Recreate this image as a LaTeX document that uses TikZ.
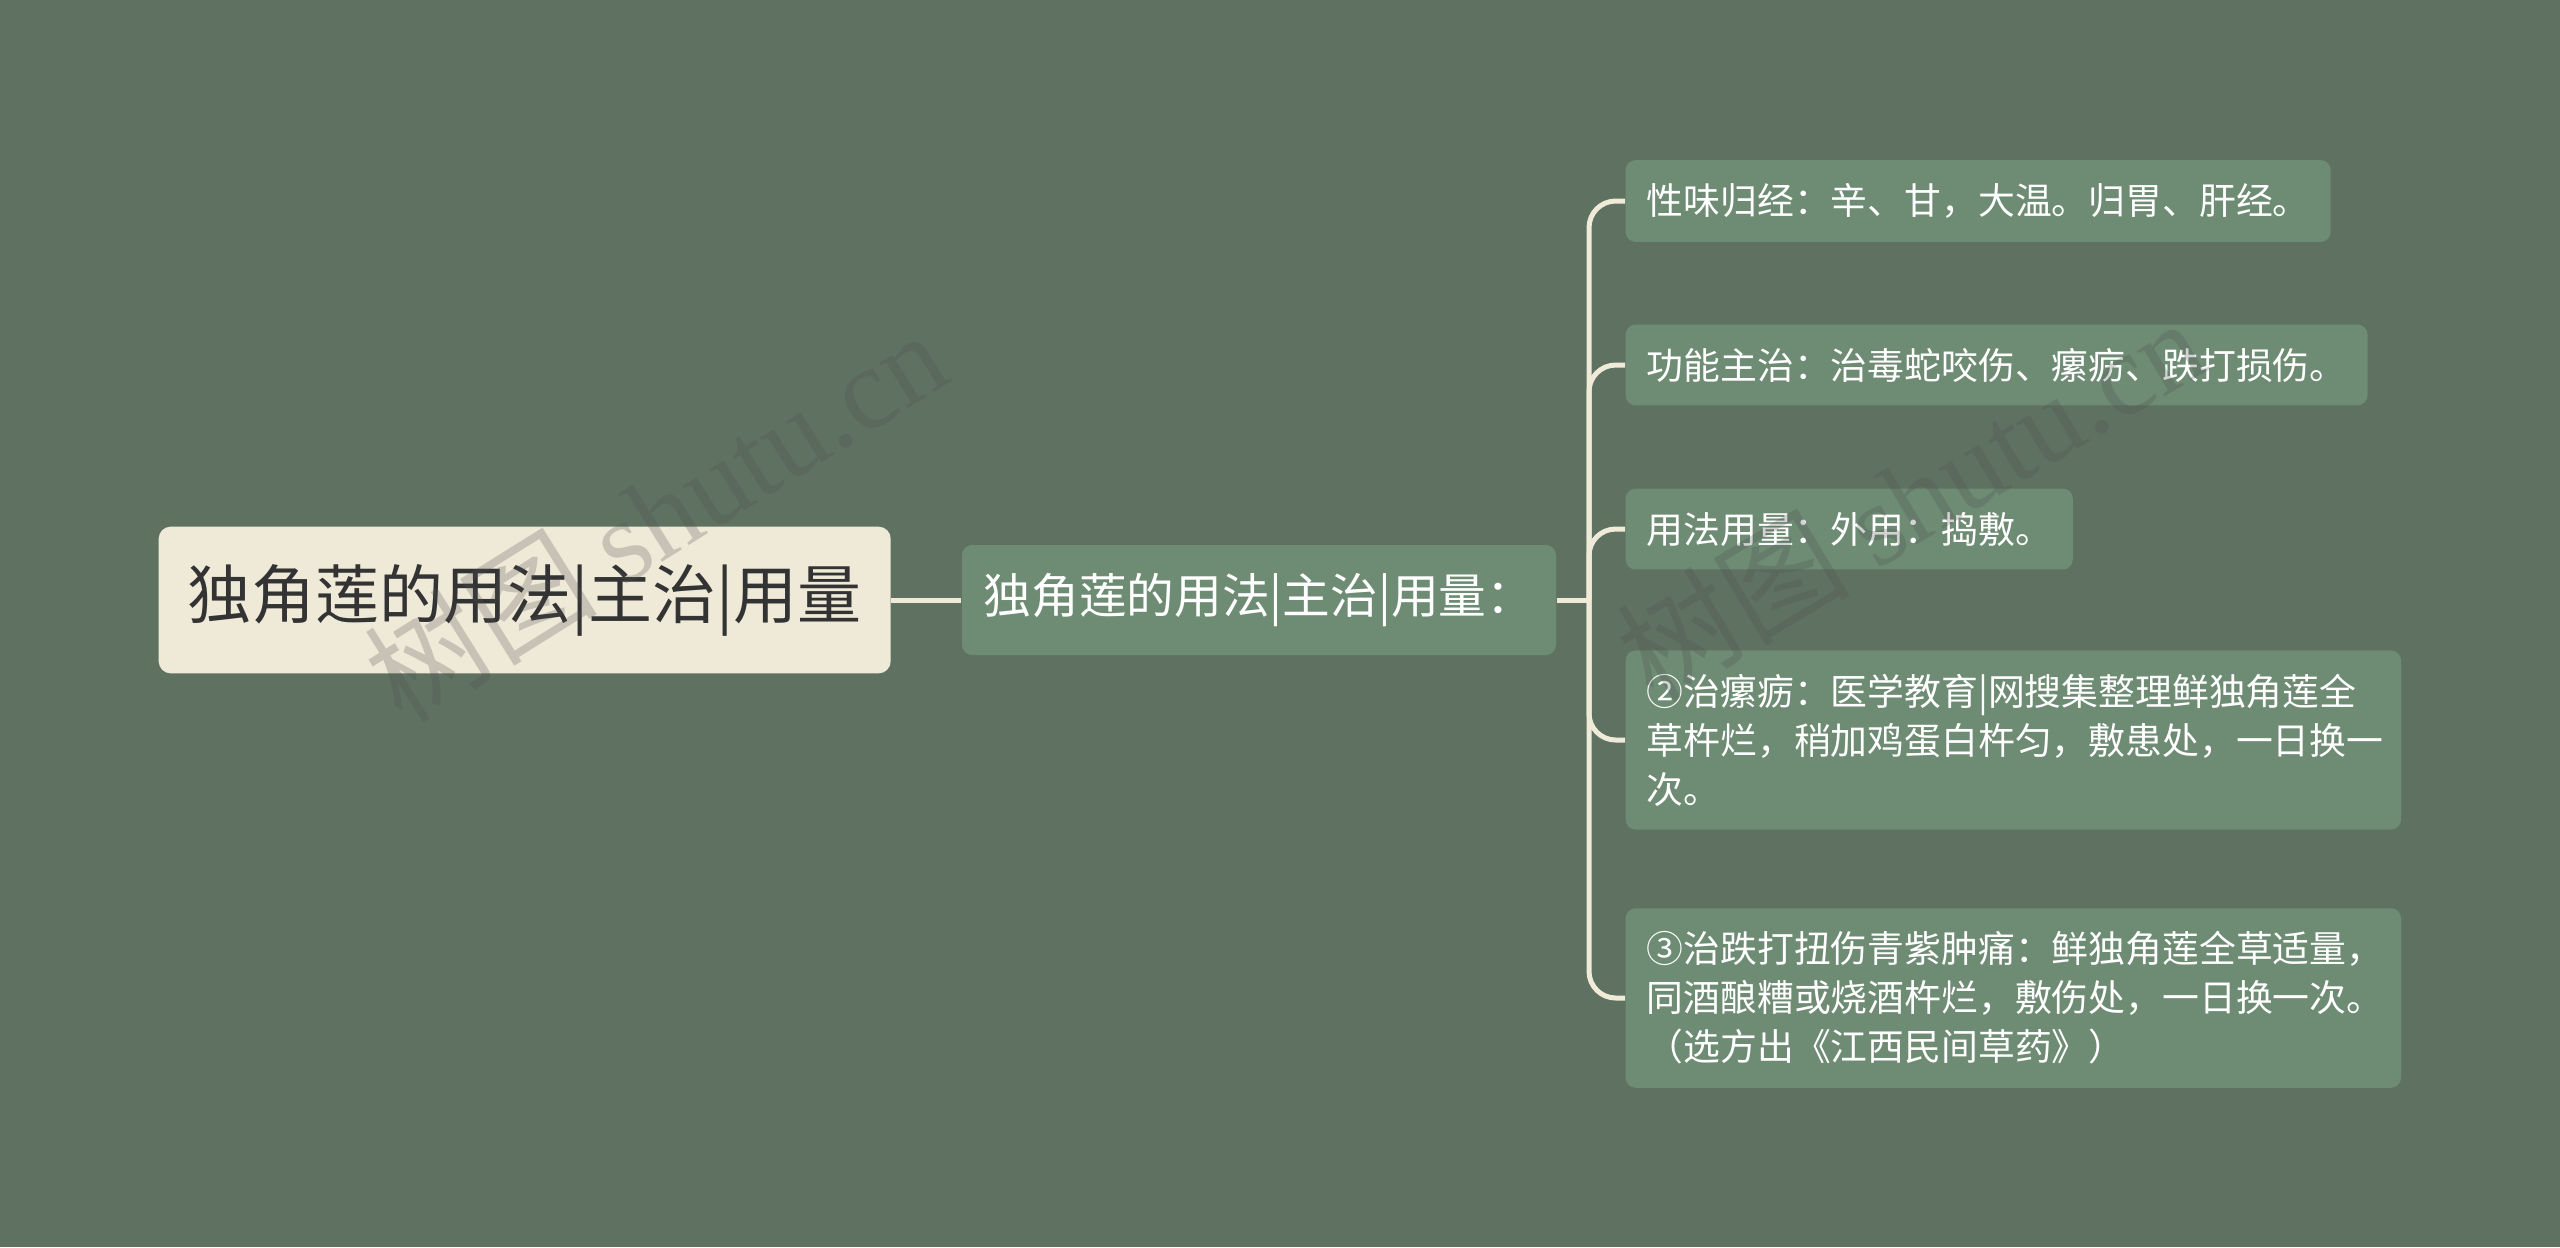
\documentclass[tikz,border=0pt]{standalone}
\usepackage{fontspec}
\setmainfont{Noto Sans CJK SC}
\newfontfamily\wmserif{Liberation Serif}
\usetikzlibrary{positioning}

\definecolor{bgcol}{HTML}{5F7262}
\definecolor{leafcol}{HTML}{6E8B74}
\definecolor{rootcol}{HTML}{EFE9D8}
\definecolor{linecol}{HTML}{F0EAD8}
\definecolor{roottext}{HTML}{333333}
\definecolor{wmcol}{HTML}{505050}

\begin{document}
\begin{tikzpicture}[x=0.3pt,y=-0.3pt,
	root node/.style={rectangle,rounded corners=3.6pt,fill=rootcol,text=roottext,
		font=\fontsize{19.2pt}{23pt}\selectfont,minimum width=219.6pt,minimum height=44pt},
	mid node/.style={rectangle,rounded corners=3pt,fill=leafcol,text=white,
		font=\fontsize{14.3pt}{17pt}\selectfont,minimum width=178.2pt,minimum height=33pt},
	leaf node/.style={rectangle,rounded corners=3pt,fill=leafcol,text=white,anchor=west,
		font=\fontsize{11.05pt}{14.7pt}\selectfont,align=left,inner xsep=6.3pt,inner ysep=7pt},
	long leaf/.style={leaf node,text width=220pt},
	link/.style={draw=linecol,line width=1.5pt},
	wm/.style={text=wmcol,opacity=0.25,font=\fontsize{35pt}{40pt}\selectfont}]

	\useasboundingbox[fill=bgcol] (0,0) rectangle (2560,1247);

	\node[root node,anchor=west] (root) at (158,600) {独角莲的用法|主治|用量};
	\node[mid node] (mid) [right=21pt of root] {独角莲的用法|主治|用量：};

	\node[leaf node] (taste) at (1625,201) {性味归经：辛、甘，大温。归胃、肝经。};
	\node[leaf node] (func) at (1625,365) {功能主治：治毒蛇咬伤、瘰疬、跌打损伤。};
	\node[leaf node] (usage) at (1625,529) {用法用量：外用：捣敷。};
	\node[long leaf] (scrof) at (1625,740) {②治瘰疬：医学教育|网搜集整理鲜独角莲全\\草杵烂，稍加鸡蛋白杵匀，敷患处，一日换一\\次。};
	\node[long leaf] (bruise) at (1625,998) {③治跌打扭伤青紫肿痛：鲜独角莲全草适量，\\同酒酿糟或烧酒杵烂，敷伤处，一日换一次。\\（选方出《江西民间草药》）};

	% connectors
	\coordinate (fork) at (1589,600);
	\path[link] (root) edge (mid);
	\draw[link] (mid.east) -- (fork);
	\foreach \leaf in {taste,func,usage,scrof,bruise}
		\draw[link,rounded corners=8pt] (fork) |- (\leaf.west);

	% watermark
	\node[wm,rotate=32] (wm1) at (655,515) {树图 {\wmserif shutu.cn}};
	\node[wm,rotate=31] (wm2) at (1910,498) {树图 {\wmserif shutu.cn}};
\end{tikzpicture}
\end{document}
